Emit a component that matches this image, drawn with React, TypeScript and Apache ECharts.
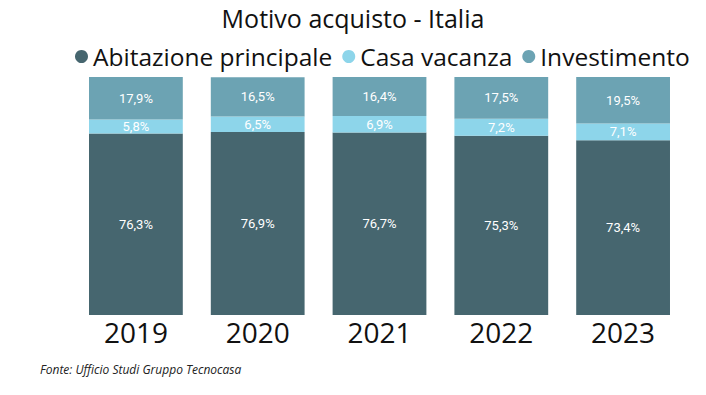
import React, { useEffect, useRef } from "react";
import * as echarts from "echarts";

const years = ["2019", "2020", "2021", "2022", "2023"];
const abitazione = [76.3, 76.9, 76.7, 75.3, 73.4];
const casaVacanza = [5.8, 6.5, 6.9, 7.2, 7.1];
const investimento = [17.9, 16.5, 16.4, 17.5, 19.5];

const seriesNames = ["Abitazione principale", "Casa vacanza", "Investimento"];
const colors = ["#46666f", "#8dd5ea", "#6ca3b3"];

export default function App() {
  const ref = useRef<HTMLDivElement>(null);
  useEffect(() => {
    if (!ref.current) return;
    const chart = echarts.init(ref.current, null, { renderer: "svg" });
    const fmt = (p: any) => p.value.toFixed(1).replace(".", ",") + "%";
    const label = {
      show: true,
      position: "inside",
      color: "#ffffff",
      fontSize: 13,
      fontFamily: "Liberation Sans Narrow, Roboto, sans-serif",
      formatter: fmt,
    };
    const datasets = [abitazione, casaVacanza, investimento];
    chart.setOption({
      animation: false,
      backgroundColor: "#ffffff",
      color: colors,
      title: {
        text: "Motivo acquisto - Italia",
        left: "center",
        top: 0,
        textStyle: {
          fontFamily: "Open Sans, sans-serif",
          fontWeight: "normal",
          fontSize: 25,
          color: "#111111",
        },
      },
      legend: {
        top: 39,
        left: 70,
        icon: "circle",
        itemWidth: 13,
        itemHeight: 13,
        itemGap: 10,
        textStyle: {
          fontFamily: "Open Sans, sans-serif",
          fontSize: 24.5,
          color: "#111111",
          padding: [0, 0, 0, 0],
        },
        data: seriesNames,
      },
      grid: { left: 75, right: 22, top: 77, bottom: 80 },
      xAxis: {
        type: "category",
        data: years,
        axisLine: { show: false },
        axisTick: { show: false },
        axisLabel: {
          fontFamily: "Open Sans, sans-serif",
          fontSize: 28,
          color: "#111111",
          margin: 3,
        },
      },
      yAxis: {
        type: "value",
        min: 0,
        max: 100,
        show: false,
        splitLine: { show: false },
      },
      graphic: [
        {
          type: "text",
          left: 40,
          top: 363,
          style: {
            text: "Fonte: Ufficio Studi Gruppo Tecnocasa",
            fontFamily: "Open Sans, sans-serif",
            fontStyle: "italic",
            fontSize: 12,
            fill: "#222222",
          },
        },
      ],
      series: datasets.map((d, i) => ({
        name: seriesNames[i],
        type: "bar",
        stack: "total",
        barWidth: "77%",
        data: d,
        label,
        itemStyle: { color: colors[i] },
      })),
    });
    return () => chart.dispose();
  }, []);
  return <div ref={ref} style={{ width: 706, height: 395, position: "absolute", left: 0, top: 0 }} />;
}
